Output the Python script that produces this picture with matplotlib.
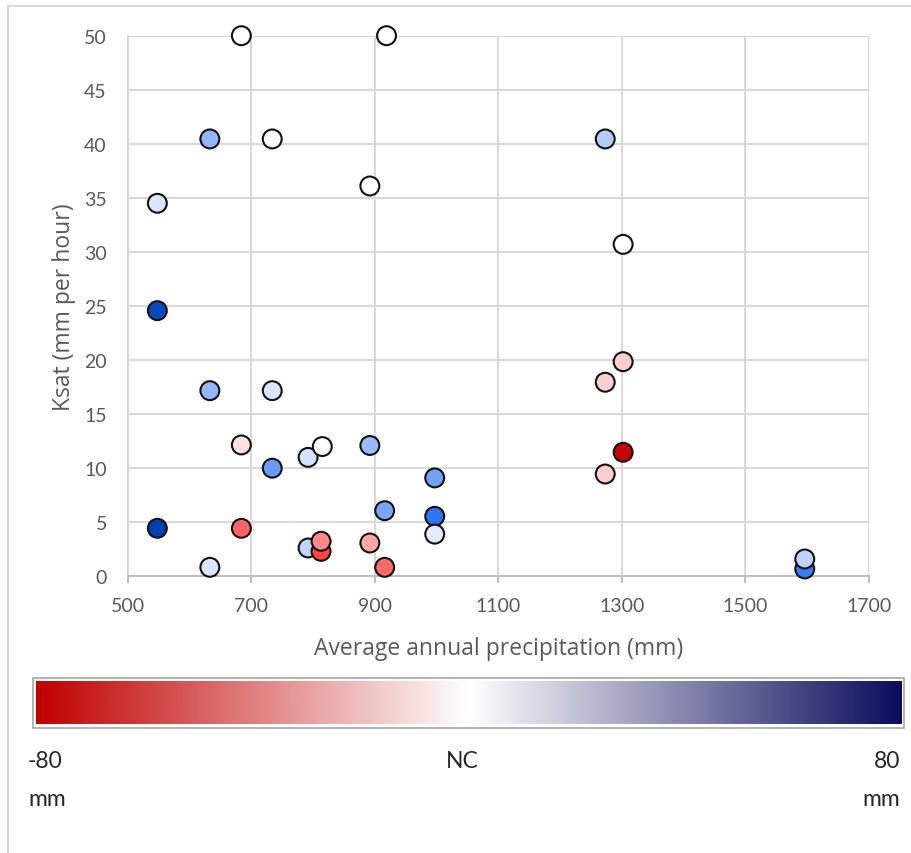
import numpy as np
import matplotlib
matplotlib.use("Agg")
import matplotlib.pyplot as plt
from matplotlib.colors import LinearSegmentedColormap
from matplotlib.lines import Line2D
from matplotlib.patches import Rectangle

# ---- data ----
precip = [684, 919, 633, 734, 892, 548, 548, 1273, 1302, 633, 734, 684, 792, 815,
          892, 734, 997, 916, 997, 997, 548, 684, 792, 813, 813, 892, 916, 633,
          1302, 1273, 1302, 1273, 1596, 1596]
ksat = [50, 50, 40.45, 40.45, 36.1, 34.5, 24.57, 40.45, 30.7, 17.17, 17.17, 12.15,
        11.0, 12.0, 12.1, 10.0, 9.1, 6.07, 5.55, 3.9, 4.44, 4.44, 2.62, 2.31, 3.24,
        3.08, 0.83, 0.83, 19.85, 17.95, 11.47, 9.46, 0.68, 1.6]
change = [0, 0, 29, 0, 0, 10, 75, 20, 0, 29, 10, -8, 12, 0,
          28, 40, 38, 36, 56, 8, 80, -44, 17, -54, -32, -22, -42, 10,
          -12, -12, -78, -12, 52, 18]

xticks = [500, 700, 900, 1100, 1300, 1500, 1700]
yticks = [0, 5, 10, 15, 20, 25, 30, 35, 40, 45, 50]
bar_labels = ["-80\nmm", "NC", "80\nmm"]
vmin, vmax = -80, 80

FONT = ["Lato", "DejaVu Sans"]
TFONT = ["Open Sans", "DejaVu Sans"]
GRAY = "#595959"
GRID = "#d9d9d9"

point_cmap = LinearSegmentedColormap.from_list(
    "pts", [(0.0, "#c00000"), (0.15, "#ff4040"), (0.35, "#ffa0a0"), (0.5, "#ffffff"),
            (0.65, "#a8c4fc"), (0.85, "#2f74f2"), (1.0, "#0040b0")])
bar_cmap = LinearSegmentedColormap.from_list("bar", ["#c00000", "#ffffff", "#0c0c5c"])

fig = plt.figure(figsize=(9.12, 8.54), dpi=100)
W, H = 912, 854

ax = fig.add_axes([127.7 / W, 1 - 577.3 / H, (869 - 127.7) / W, (577.3 - 36.7) / H])
ax.set_xlim(500, 1700)
ax.set_ylim(0, 50)
ax.set_xticks(xticks)
ax.set_yticks(yticks)
ax.grid(True, color=GRID, linewidth=1.5, zorder=0)
ax.set_axisbelow(True)
for s in ["top", "right"]:
    ax.spines[s].set_visible(False)
ax.spines["left"].set_color(GRID)
ax.spines["left"].set_linewidth(1.5)
ax.spines["bottom"].set_color("#bfbfbf")
ax.spines["bottom"].set_linewidth(1.5)
ax.tick_params(axis="x", length=5, width=1.5, color="#bfbfbf", pad=10,
               labelsize=14, labelcolor=GRAY)
ax.tick_params(axis="y", length=0, pad=15, labelsize=14, labelcolor=GRAY)
for lab in ax.get_xticklabels() + ax.get_yticklabels():
    lab.set_family(FONT)

ax.scatter(precip, ksat, c=change, cmap=point_cmap, vmin=vmin, vmax=vmax,
           s=185, edgecolors="#111111", linewidths=1.5, zorder=3, clip_on=False)

ax.set_xlabel("Average annual precipitation (mm)", fontsize=16.5, color=GRAY,
              family=TFONT, labelpad=16)
ax.set_ylabel("Ksat (mm per hour)", fontsize=16.5, color=GRAY, family=TFONT, labelpad=6)

# colour bar
cax = fig.add_axes([36 / W, 1 - 725 / H, (902 - 36) / W, 43 / H])
grad = np.linspace(vmin, vmax, 512).reshape(1, -1)
cax.imshow(grad, cmap=bar_cmap, aspect="auto", extent=[vmin, vmax, 0, 1])
cax.set_xlim(vmin, vmax)
cax.axis("off")
fig.add_artist(Rectangle((33 / W, 1 - 729 / H), (904 - 33) / W, 50 / H,
                         transform=fig.transFigure, fill=False,
                         edgecolor="#a6a6a6", linewidth=1.2))

left_lines = bar_labels[0].split("\n")
right_lines = bar_labels[2].split("\n")
fig.text(28 / W, 1 - 762 / H, left_lines[0], fontsize=16.5,
         color="#262626", family=FONT, ha="left", va="center")
fig.text(28 / W, 1 - 800 / H, left_lines[1], fontsize=16.5,
         color="#262626", family=FONT, ha="left", va="center")
fig.text(462 / W, 1 - 762 / H, bar_labels[1], fontsize=16.5,
         color="#262626", family=FONT, ha="center", va="center")
fig.text(900 / W, 1 - 762 / H, right_lines[0], fontsize=16.5,
         color="#262626", family=FONT, ha="right", va="center")
fig.text(900 / W, 1 - 800 / H, right_lines[1], fontsize=16.5,
         color="#262626", family=FONT, ha="right", va="center")

# outer chart border (left and top only visible)
fig.add_artist(Line2D([8 / W, 8 / W], [0, 1 - 7 / H], transform=fig.transFigure,
                      color=GRID, linewidth=1.5))
fig.add_artist(Line2D([8 / W, 1], [1 - 7 / H, 1 - 7 / H], transform=fig.transFigure,
                      color=GRID, linewidth=1.5))

fig.savefig("out.png", dpi=100)
